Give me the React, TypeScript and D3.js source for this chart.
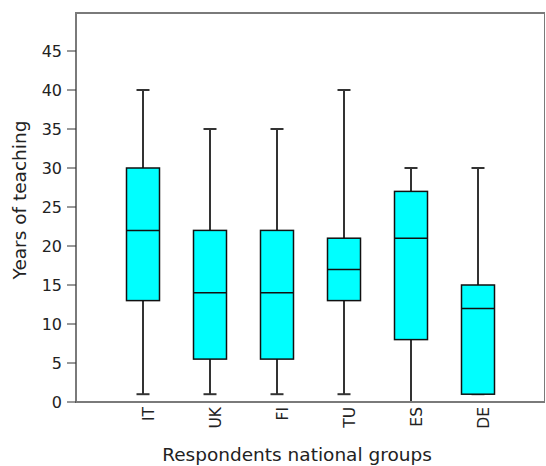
import React from "react";
import * as d3 from "d3";

const categories = ["IT", "UK", "FI", "TU", "ES", "DE"];
const minVals = [1, 1, 1, 1, 0, 1];
const q1Vals = [13, 5.5, 5.5, 13, 8, 1];
const medianVals = [22, 14, 14, 17, 21, 12];
const q3Vals = [30, 22, 22, 21, 27, 15];
const maxVals = [40, 35, 35, 40, 30, 30];
const yTicks = [0, 5, 10, 15, 20, 25, 30, 35, 40, 45];

const W = 546, H = 466;
const left = 76, right = 545, top = 12, bottom = 402;
const font = "Tahoma, 'DejaVu Sans', Verdana, sans-serif";

export default function App() {
  const x = d3.scalePoint<string>().domain(categories).range([left, right]).padding(1);
  const y = d3.scaleLinear().domain([0, 50]).range([bottom, top]);
  const boxW = 33, capW = 13;
  return (
    <svg width={W} height={H} style={{ position: "absolute", left: 0, top: 0, background: "#fff" }}>
      {/* frame */}
      <line x1={left} x2={right} y1={top + 1} y2={top + 1} stroke="#7a7a7a" strokeWidth={2} />
      <line x1={right - 0.5} x2={right - 0.5} y1={top} y2={bottom} stroke="#7a7a7a" strokeWidth={1} />
      {categories.map((c, i) => {
        const cx = x(c)!;
        return (
          <g key={c}>
            <line x1={cx} x2={cx} y1={y(maxVals[i])} y2={y(q3Vals[i])} stroke="#333" strokeWidth={2} />
            <line x1={cx} x2={cx} y1={y(minVals[i])} y2={y(q1Vals[i])} stroke="#333" strokeWidth={2} />
            <line x1={cx - capW / 2} x2={cx + capW / 2} y1={y(maxVals[i])} y2={y(maxVals[i])} stroke="#333" strokeWidth={2} />
            <line x1={cx - capW / 2} x2={cx + capW / 2} y1={y(minVals[i])} y2={y(minVals[i])} stroke="#333" strokeWidth={2} />
            <rect x={cx - boxW / 2} y={y(q3Vals[i])} width={boxW} height={y(q1Vals[i]) - y(q3Vals[i])}
              fill="#00ffff" stroke="#111" strokeWidth={1.5} />
            <line x1={cx - boxW / 2} x2={cx + boxW / 2} y1={y(medianVals[i])} y2={y(medianVals[i])} stroke="#111" strokeWidth={1.5} />
            <text transform={`translate(${cx + 11},${bottom + 5}) rotate(-90)`} textAnchor="end"
              fontFamily={font} fontSize={15.5} fill="#222">{c}</text>
          </g>
        );
      })}
      {/* axes */}
      <line x1={left} x2={left} y1={top} y2={bottom + 1} stroke="#7a7a7a" strokeWidth={2} />
      <line x1={left - 1} x2={right} y1={bottom} y2={bottom} stroke="#7a7a7a" strokeWidth={2} />
      {yTicks.map((t) => (
        <g key={t}>
          <line x1={left - 9} x2={left} y1={y(t)} y2={y(t)} stroke="#333" strokeWidth={1} />
          <text x={left - 14} y={y(t)} dy="0.36em" textAnchor="end" fontFamily={font} fontSize={16} fill="#222">{t}</text>
        </g>
      ))}
      <text transform={`translate(26,200) rotate(-90)`} textAnchor="middle"
        fontFamily={font} fontSize={18.5} fill="#222">Years of teaching</text>
      <text x={297} y={461} textAnchor="middle" fontFamily={font} fontSize={18.5} fill="#222">Respondents national groups</text>
    </svg>
  );
}
